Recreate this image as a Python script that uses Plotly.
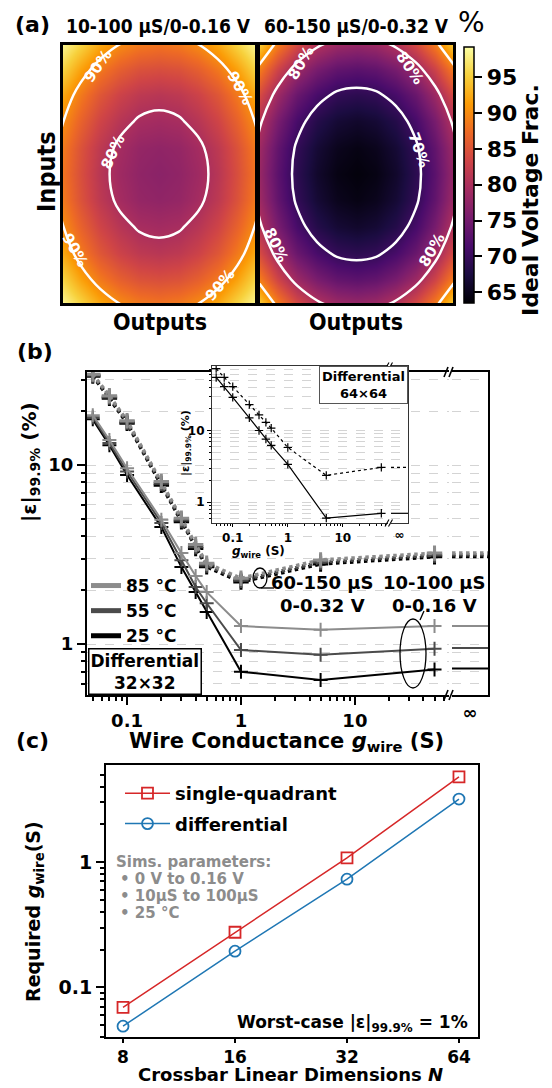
import math
import plotly.graph_objects as go

# ---------------------------------------------------------------- data
# (a) ideal-voltage fraction (%) over the crossbar, rows = inputs, cols = outputs
grid_idx = list(range(11))
volt_frac_10_100uS = [
    [99.0, 95.9, 92.6, 90.3, 89.0, 88.5, 89.0, 90.3, 92.6, 95.9, 99.0],
    [95.9, 91.7, 88.5, 86.2, 84.8, 84.4, 84.8, 86.2, 88.5, 91.7, 95.9],
    [92.6, 88.5, 85.3, 83.0, 81.6, 81.1, 81.6, 83.0, 85.3, 88.5, 92.6],
    [90.5, 86.5, 83.3, 81.0, 79.6, 79.2, 79.6, 81.0, 83.3, 86.5, 90.5],
    [89.0, 84.8, 81.6, 79.3, 77.9, 77.5, 77.9, 79.3, 81.6, 84.8, 89.0],
    [88.5, 84.4, 81.1, 78.8, 77.5, 77.0, 77.5, 78.8, 81.1, 84.4, 88.5],
    [89.0, 84.8, 81.6, 79.3, 77.9, 77.5, 77.9, 79.3, 81.6, 84.8, 89.0],
    [90.5, 86.5, 83.3, 81.0, 79.6, 79.2, 79.6, 81.0, 83.3, 86.5, 90.5],
    [92.6, 88.5, 85.3, 83.0, 81.6, 81.1, 81.6, 83.0, 85.3, 88.5, 92.6],
    [95.9, 91.7, 88.5, 86.2, 84.8, 84.4, 84.8, 86.2, 88.5, 91.7, 95.9],
    [99.0, 95.9, 92.6, 90.3, 89.0, 88.5, 89.0, 90.3, 92.6, 95.9, 99.0],
]
volt_frac_60_150uS = [
    [96.0, 89.4, 84.5, 81.1, 79.1, 78.5, 79.1, 81.1, 84.5, 89.4, 96.0],
    [89.4, 83.1, 78.5, 75.4, 73.5, 72.9, 73.5, 75.4, 78.5, 83.1, 89.4],
    [84.5, 78.5, 74.1, 71.2, 69.4, 68.9, 69.4, 71.2, 74.1, 78.5, 84.5],
    [81.1, 75.4, 71.2, 68.3, 66.7, 66.1, 66.7, 68.3, 71.2, 75.4, 81.1],
    [79.1, 73.5, 69.4, 66.7, 65.1, 64.5, 65.1, 66.7, 69.4, 73.5, 79.1],
    [78.5, 72.9, 68.9, 66.1, 64.5, 64.0, 64.5, 66.1, 68.9, 72.9, 78.5],
    [79.1, 73.5, 69.4, 66.7, 65.1, 64.5, 65.1, 66.7, 69.4, 73.5, 79.1],
    [81.1, 75.4, 71.2, 68.3, 66.7, 66.1, 66.7, 68.3, 71.2, 75.4, 81.1],
    [84.5, 78.5, 74.1, 71.2, 69.4, 68.9, 69.4, 71.2, 74.1, 78.5, 84.5],
    [89.4, 83.1, 78.5, 75.4, 73.5, 72.9, 73.5, 75.4, 78.5, 83.1, 89.4],
    [96.0, 89.4, 84.5, 81.1, 79.1, 78.5, 79.1, 81.1, 84.5, 89.4, 96.0],
]
cbar_ticks = [65, 70, 75, 80, 85, 90, 95]

# (b) worst-case error (%) of a 32x32 differential crossbar vs wire conductance (S)
g_wire = [0.05, 0.07, 0.1, 0.2, 0.3, 0.4, 0.5, 1, 5, 50]
temp_labels = ["85 °C", "55 °C", "25 °C"]
# 10-100 uS, 0-0.16 V (solid)
err_low_85 = [19.0, 13.8, 9.6, 4.95, 3.22, 2.40, 1.95, 1.26, 1.20, 1.26]
err_low_55 = [18.5, 13.3, 9.2, 4.75, 2.94, 2.08, 1.69, 0.925, 0.87, 0.94]
err_low_25 = [18.0, 12.9, 8.8, 4.5, 2.69, 1.95, 1.51, 0.70, 0.63, 0.72]
err_low_inf = [1.26, 0.95, 0.73]
# 60-150 uS, 0-0.32 V (dotted)
err_high_85 = [32.2, 24.4, 17.7, 8.1, 5.05, 3.6, 2.83, 2.33, 2.95, 3.22]
err_high_55 = [31.8, 24.0, 17.4, 7.9, 4.93, 3.5, 2.76, 2.27, 2.87, 3.14]
err_high_25 = [31.4, 23.6, 17.1, 7.7, 4.82, 3.42, 2.70, 2.22, 2.80, 3.07]
err_high_inf = [3.23, 3.15, 3.08]
# inset: 64x64 differential crossbar
inset_err_low = [55, 41, 29, 15, 10, 7.6, 6.2, 3.37, 0.60, 0.70]
inset_err_high = [73, 55, 41, 23, 16.5, 13, 10.8, 5.8, 2.37, 3.06]
inset_err_inf = [0.70, 3.06]

# (c) required wire conductance (S) for 1% worst-case error vs crossbar size N
crossbar_n = [8, 16, 32, 64]
g_req_single = [0.069, 0.275, 1.08, 4.79]
g_req_diff = [0.0488, 0.194, 0.73, 3.19]

# ---------------------------------------------------------------- helpers
W, H = 552, 1088
FONT = "DejaVu Sans"
COND = "DejaVu Sans Condensed, DejaVu Sans"
temp_colors = ["#8c8c8c", "#4b4b4b", "#000000"]
INF_SPAN = [0, 1]


def fx(p):
    return p / W


def fy(p):
    return 1 - p / H


def bold(size, color="black", family=FONT):
    return dict(family=family, size=size, color=color, weight="bold")


def note(text, x, y, size, xanchor="center", yanchor="middle", **kw):
    d = dict(text=text, x=fx(x), y=fy(y), xref="paper", yref="paper",
             showarrow=False, xanchor=xanchor, yanchor=yanchor, font=bold(size))
    d.update(kw)
    return d


def seg(x0, y0, x1, y1, w=1.5, color="black"):
    return dict(type="line", xref="paper", yref="paper", x0=fx(x0), y0=fy(y0),
                x1=fx(x1), y1=fy(y1), line=dict(color=color, width=w))


fig = go.Figure()

# ---------------------------------------------------------------- (a) maps
ZMIN, ZMAX = 63.5, 99.2
maps = [(volt_frac_10_100uS, "x", "y", 0.8), (volt_frac_60_150uS, "x2", "y2", 0.7)]
for k, (grid, xa, ya, c_start) in enumerate(maps):
    hm = dict(z=grid, x=grid_idx, y=grid_idx, colorscale="Inferno", zmin=ZMIN, zmax=ZMAX,
              zsmooth="best", xaxis=xa, yaxis=ya, hoverinfo="skip", showscale=(k == 1),
              showlegend=False)
    if k == 1:
        hm["colorbar"] = dict(x=fx(464), xanchor="left", y=fy(47), yanchor="top",
                              len=(303 - 47) / H, lenmode="fraction", thickness=10,
                              thicknessmode="pixels", outlinewidth=1.5, outlinecolor="black",
                              ticks="outside", ticklen=8, tickwidth=2, tickcolor="black",
                              tickvals=cbar_ticks, tickfont=bold(22), xpad=0, ypad=0)
    fig.add_trace(go.Heatmap(**hm))
    fig.add_trace(go.Contour(
        z=[[v / 100 for v in row] for row in grid], x=grid_idx, y=grid_idx,
        xaxis=xa, yaxis=ya, showscale=False, hoverinfo="skip", showlegend=False,
        autocontour=False,
        contours=dict(coloring="none", start=c_start, end=0.95, size=0.1, showlabels=False),
        line=dict(color="white", width=2.5, smoothing=1.0)))

# ---------------------------------------------------------------- (b) main plot
high_series = [err_high_85, err_high_55, err_high_25]
low_series = [err_low_85, err_low_55, err_low_25]
draw_order = [2, 1, 0]  # 25 °C first, 85 °C on top
for i in draw_order:
    c = temp_colors[i]
    fig.add_trace(go.Scatter(
        x=g_wire, y=high_series[i], mode="lines+markers", xaxis="x3", yaxis="y3",
        line=dict(color=c, width=3.5, dash="dot"),
        marker=dict(symbol="cross-thin", size=11, line=dict(width=3, color=c)),
        showlegend=False, hoverinfo="skip"))
for i in draw_order:
    c = temp_colors[i]
    fig.add_trace(go.Scatter(
        x=g_wire, y=low_series[i], mode="lines+markers", xaxis="x3", yaxis="y3",
        line=dict(color=c, width=2),
        marker=dict(symbol="cross-thin", size=10, line=dict(width=2, color=c)),
        showlegend=False, hoverinfo="skip"))
# values at infinite wire conductance
for i in draw_order:
    c = temp_colors[i]
    fig.add_trace(go.Scatter(x=INF_SPAN, y=[err_high_inf[i]] * 2, mode="lines",
                             xaxis="x4", yaxis="y4", line=dict(color=c, width=3.5, dash="dot"),
                             showlegend=False, hoverinfo="skip"))
    fig.add_trace(go.Scatter(x=INF_SPAN, y=[err_low_inf[i]] * 2, mode="lines",
                             xaxis="x4", yaxis="y4", line=dict(color=c, width=2),
                             showlegend=False, hoverinfo="skip"))
# legend entries
for i, lab in enumerate(temp_labels):
    fig.add_trace(go.Scatter(x=[None], y=[None], mode="lines", name=lab, xaxis="x3", yaxis="y3",
                             line=dict(color=temp_colors[i], width=5), legend="legend"))

# ---------------------------------------------------------------- (b) inset
fig.add_trace(go.Scatter(x=g_wire, y=inset_err_high, mode="lines+markers", xaxis="x5", yaxis="y5",
                         line=dict(color="black", width=1.2, dash="dot"),
                         marker=dict(symbol="cross-thin", size=6, line=dict(width=1.2, color="black")),
                         showlegend=False, hoverinfo="skip"))
fig.add_trace(go.Scatter(x=g_wire, y=inset_err_low, mode="lines+markers", xaxis="x5", yaxis="y5",
                         line=dict(color="black", width=1.2),
                         marker=dict(symbol="cross-thin", size=6, line=dict(width=1.2, color="black")),
                         showlegend=False, hoverinfo="skip"))
fig.add_trace(go.Scatter(x=INF_SPAN, y=[inset_err_inf[1]] * 2, mode="lines", xaxis="x6", yaxis="y6",
                         line=dict(color="black", width=1.2, dash="dot"), showlegend=False))
fig.add_trace(go.Scatter(x=INF_SPAN, y=[inset_err_inf[0]] * 2, mode="lines", xaxis="x6", yaxis="y6",
                         line=dict(color="black", width=1.2), showlegend=False))

# ---------------------------------------------------------------- (c)
fig.add_trace(go.Scatter(x=crossbar_n, y=g_req_single, mode="lines+markers", name="single-quadrant",
                         xaxis="x7", yaxis="y7", legend="legend2", legendgroup="sq",
                         line=dict(color="#d62728", width=1.5),
                         marker=dict(symbol="square-open", size=11, color="#d62728",
                                     line=dict(width=1.8))))
fig.add_trace(go.Scatter(x=crossbar_n, y=g_req_diff, mode="lines+markers", name="differential",
                         xaxis="x7", yaxis="y7", legend="legend2", legendgroup="df",
                         line=dict(color="#1f77b4", width=1.5),
                         marker=dict(symbol="circle-open", size=11, color="#1f77b4",
                                     line=dict(width=1.8))))

# ---------------------------------------------------------------- axes
# map range trimmed a hair so contour segments running along the border stay hidden
frame = dict(showline=True, linecolor="black", linewidth=2.5, mirror=True, showticklabels=False,
             ticks="", showgrid=False, zeroline=False, range=[0.1, 9.9])
grid_dash = dict(showgrid=True, gridcolor="#d4d4d4", griddash="dash", gridwidth=1)

lg = math.log10
ax = dict(
    xaxis=dict(domain=[fx(63), fx(255)], anchor="y", **frame),
    yaxis=dict(domain=[fy(303), fy(45)], anchor="x", **frame),
    xaxis2=dict(domain=[fx(260), fx(453)], anchor="y2", **frame),
    yaxis2=dict(domain=[fy(303), fy(45)], anchor="x2", **frame),
    # (b) main
    xaxis3=dict(domain=[fx(87), fx(449)], anchor="y3", type="log", range=[lg(0.0445), lg(67)],
                dtick=1, ticks="outside", ticklen=8, tickwidth=2, tickcolor="black",
                tickfont=bold(18), showline=True, linecolor="black", linewidth=2, mirror=True,
                showgrid=False, zeroline=False,
                minor=dict(ticks="outside", ticklen=4, tickwidth=1.5, tickcolor="black", dtick="D1")),
    yaxis3=dict(domain=[fy(695), fy(372)], anchor="x3", type="log", range=[-0.285, 1.52],
                dtick=1, ticks="outside", ticklen=8, tickwidth=2, tickcolor="black",
                tickfont=bold(18), showline=True, linecolor="black", linewidth=2, mirror=False,
                zeroline=False, **grid_dash,
                minor=dict(ticks="outside", ticklen=4, tickwidth=1.5, tickcolor="black",
                           dtick="D1", **grid_dash)),
    xaxis4=dict(domain=[fx(452), fx(488)], anchor="y4", range=INF_SPAN, tickvals=[0.5],
                ticktext=["∞"], ticks="", tickfont=bold(18), showline=True, linecolor="black",
                linewidth=2, mirror=True, showgrid=False, zeroline=False),
    yaxis4=dict(domain=[fy(695), fy(372)], anchor="x4", type="log", range=[-0.285, 1.52],
                side="right", showticklabels=False, ticks="", showline=True, linecolor="black",
                linewidth=2, zeroline=False, dtick=1, **grid_dash,
                minor=dict(dtick="D1", **grid_dash)),
    # (b) inset
    xaxis5=dict(domain=[fx(212), fx(388)], anchor="y5", type="log", range=[lg(0.042), 1.82],
                dtick=1, ticks="outside", ticklen=3, tickwidth=1.2, tickcolor="black",
                tickfont=bold(12), showline=True, linecolor="#333", linewidth=1.2, mirror=True,
                showgrid=False, zeroline=False,
                minor=dict(ticks="outside", ticklen=2, tickwidth=1, tickcolor="black", dtick="D1")),
    yaxis5=dict(domain=[fy(523), fy(366)], anchor="x5", type="log", range=[-0.29, 1.90],
                dtick=1, ticks="outside", ticklen=4, tickwidth=1.2, tickcolor="black",
                tickfont=bold(12), showline=True, linecolor="#333", linewidth=1.2, mirror=False,
                zeroline=False, **grid_dash,
                minor=dict(ticks="outside", ticklen=2, tickwidth=1, tickcolor="black",
                           dtick="D1", **grid_dash)),
    xaxis6=dict(domain=[fx(391), fx(408)], anchor="y6", range=INF_SPAN, tickvals=[0.5],
                ticktext=["∞"], ticks="", tickfont=bold(12), showline=True, linecolor="#333",
                linewidth=1.2, mirror=True, showgrid=False, zeroline=False),
    yaxis6=dict(domain=[fy(523), fy(366)], anchor="x6", type="log", range=[-0.29, 1.90],
                side="right", showticklabels=False, ticks="", showline=True, linecolor="#333",
                linewidth=1.2, zeroline=False, dtick=1, **grid_dash,
                minor=dict(dtick="D1", **grid_dash)),
    # (c)
    xaxis7=dict(domain=[fx(106), fx(478)], anchor="y7", type="log", range=[lg(7.2), lg(72)],
                tickvals=crossbar_n, ticktext=[str(n) for n in crossbar_n], ticks="outside",
                ticklen=4, tickwidth=2, tickcolor="black", tickfont=bold(17), showline=True,
                linecolor="black", linewidth=2, mirror=True, showgrid=False, zeroline=False),
    yaxis7=dict(domain=[fy(1037), fy(765)], anchor="x7", type="log", range=[-1.398, 0.776],
                dtick=1, ticks="outside", ticklen=8, tickwidth=2, tickcolor="black",
                tickfont=bold(19), showline=True, linecolor="black", linewidth=2, mirror=True,
                showgrid=False, zeroline=False,
                minor=dict(ticks="outside", ticklen=4, tickwidth=1.5, tickcolor="black", dtick="D1")),
)

# ---------------------------------------------------------------- text
eps = "|ε|<sub>99.9%</sub>"
gw = "<i>g</i><sub>wire</sub>"
grey = "#8c8c8c"
annotations = [
    note("(a)", 32, 25, 22),
    note("10-100 µS/0-0.16 V", 158, 26, 19, font=bold(19, family=COND)),
    note("60-150 µS/0-0.32 V", 356, 26, 19, font=bold(19, family=COND)),
    note("%", 471, 22, 28, font=dict(family=FONT, size=28, color="black")),
    note("Ideal Voltage Frac.", 530, 200, 22, textangle=-90),
    note("Inputs", 46, 172, 25, textangle=-90, font=bold(25, family=COND)),
    note("Outputs", 160, 322, 23, font=bold(23, family=COND)),
    note("Outputs", 356, 322, 23, font=bold(23, family=COND)),
    # (b)
    note("(b)", 35, 352, 22),
    note(eps + " (%)", 30, 462, 20, textangle=-90),
    note("Wire Conductance " + gw + " (S)", 286, 742, 21),
    note(eps + " (%)", 186, 443, 11, textangle=-90),
    note(gw + " (S)", 258, 552, 12),
    note("Differential<br>64×64", 408, 366, 13, xanchor="right", yanchor="top",
         bgcolor="white", bordercolor="#555", borderwidth=1, borderpad=2),
    note("Differential<br>32×32", 88, 695, 17, xanchor="left", yanchor="bottom",
         bgcolor="white", bordercolor="black", borderwidth=1.5, borderpad=1),
    note("60-150 µS<br>0-0.32 V", 322, 594, 18),
    note("10-100 µS<br>0-0.16 V", 435, 594, 18),
    # (c)
    note("(c)", 32, 740, 22),
    note("Required " + gw + "(S)", 34, 912, 19, textangle=-90),
    note("Crossbar Linear Dimensions <i>N</i>", 290, 1087, 18, yanchor="bottom"),
    note("Sims. parameters:", 114, 862, 15, xanchor="left", font=bold(15, grey)),
    note("• 0 V to 0.16 V", 118, 879, 15, xanchor="left", font=bold(15, grey)),
    note("• 10µS to 100µS", 118, 896, 15, xanchor="left", font=bold(15, grey)),
    note("• 25 °C", 118, 913, 15, xanchor="left", font=bold(15, grey)),
    note("Worst-case " + eps + " = 1%", 470, 1023, 17, xanchor="right"),
]
# contour-level labels on the maps
contour_labels = [
    ("90%", 98, 66, -55), ("90%", 240, 88, 60), ("80%", 113, 152, -65),
    ("90%", 75, 250, 60), ("90%", 220, 285, -50),
    ("80%", 301, 63, -60), ("80%", 410, 68, 55), ("70%", 419, 150, 70),
    ("80%", 276, 245, 65), ("80%", 432, 250, -60),
]
for txt, x, y, ang in contour_labels:
    annotations.append(note(txt, x, y, 15, textangle=ang, font=bold(15, "white")))

shapes = [
    # ellipses marking each voltage/conductance family
    dict(type="circle", xref="paper", yref="paper", x0=fx(253), x1=fx(267), y0=fy(588), y1=fy(568),
         line=dict(color="black", width=1.3)),
    seg(261, 588, 274, 588, 1.3),
    dict(type="circle", xref="paper", yref="paper", x0=fx(400), x1=fx(426), y0=fy(688), y1=fy(619),
         line=dict(color="black", width=1.3)),
    seg(420, 620, 424, 611, 1.3),
]
# axis-break marks
for (xb, yb, h, w) in [(446, 372, 5, 1.6), (451, 372, 5, 1.6), (446, 695, 5, 1.6), (451, 695, 5, 1.6),
                       (387, 366, 3.5, 1.1), (390.5, 366, 3.5, 1.1),
                       (387, 523, 3.5, 1.1), (390.5, 523, 3.5, 1.1)]:
    shapes.append(seg(xb - 2, yb + h, xb + 2, yb - h, w))

fig.update_layout(
    width=W, height=H, margin=dict(l=0, r=0, t=0, b=0),
    paper_bgcolor="white", plot_bgcolor="white",
    font=dict(family=FONT, color="black"),
    annotations=annotations, shapes=shapes,
    legend=dict(x=fx(86), y=fy(568), xanchor="left", yanchor="top", bgcolor="rgba(0,0,0,0)",
                font=bold(17), itemwidth=30, tracegroupgap=0),
    legend2=dict(x=fx(120), y=fy(775), xanchor="left", yanchor="top", bgcolor="rgba(0,0,0,0)",
                 font=bold(18), itemwidth=45, tracegroupgap=4),
    **ax,
)

fig.write_html("out.html")
